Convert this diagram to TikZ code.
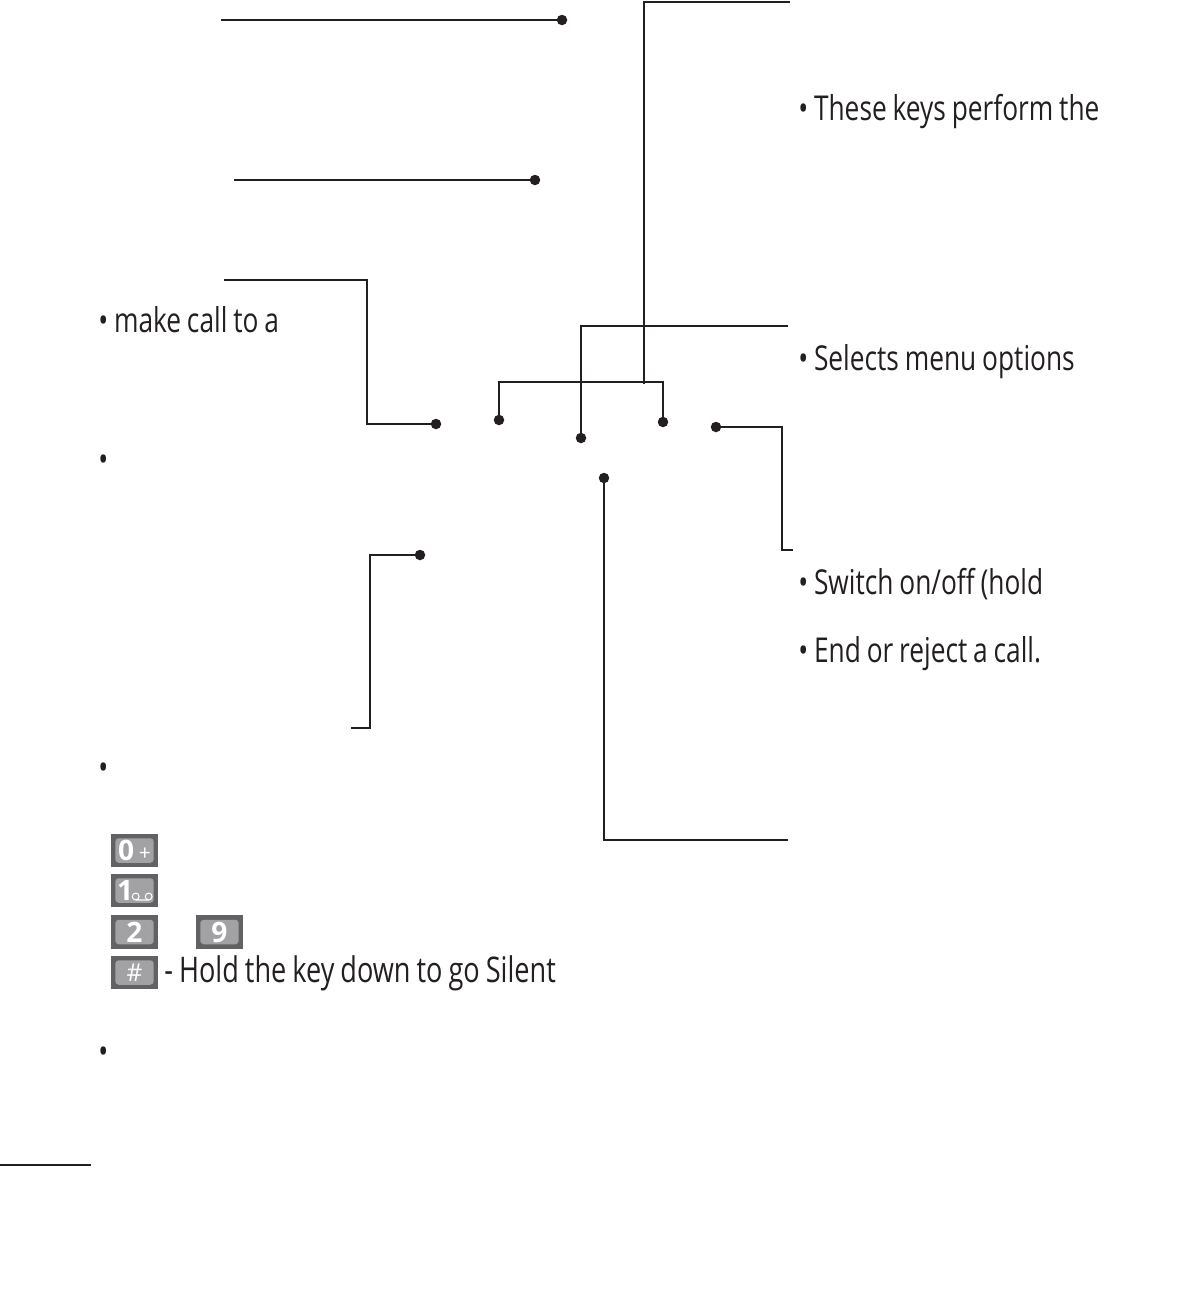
\documentclass[tikz,border=0pt]{standalone}
\usepackage{fontspec}
\setmainfont[FakeStretch=0.768,WordSpace=0.85]{Open Sans}
\newfontfamily\keyfont{Open Sans}
\usetikzlibrary{positioning}
\definecolor{inkblack}{HTML}{231F20}
\definecolor{keydark}{HTML}{626264}
\definecolor{keylight}{HTML}{A2A2A4}

\begin{document}
\begin{tikzpicture}[
  x=0.02cm, y=-0.02cm,
  lead/.style={draw=inkblack, line width=1.45pt},
  toprule/.style={draw=inkblack, line width=1.65pt},
  pindot/.style={circle, fill=inkblack, inner sep=0pt, outer sep=0pt, minimum size=0.21cm},
  captxt/.style={anchor=base west, inner sep=0pt, text=inkblack, font=\fontsize{19.5}{22}\selectfont},
  keyback/.style={fill=keydark, inner sep=0pt, minimum width=0.94cm, minimum height=0.67cm},
  keycap/.style={fill=keylight, rounded corners=2pt, inner sep=0pt, minimum width=0.77cm, minimum height=0.49cm,
    text=white, font=\keyfont\fontsize{16}{16}\bfseries\selectfont}
]
  \useasboundingbox (0,0) rectangle (1180,1306);

  % callouts on the left
  \coordinate (topfree) at (221,20);
  \node[pindot] (toppin) at (562,20) {};
  \draw[toprule] (topfree) -- (toppin);

  \coordinate (midfree) at (234,180);
  \node[pindot] (midpin) at (535,180) {};
  \draw[toprule] (midfree) -- (midpin);

  \coordinate (callfree) at (224,280);
  \node[pindot] (callpin) at (436,424) {};
  \draw[lead] (callfree) -- (367,280) |- (callpin);

  \coordinate (lowfree) at (351,728);
  \node[pindot] (lowpin) at (420,555) {};
  \draw[lead] (lowfree) -- (370,728) |- (lowpin);

  % soft keys and centre key
  \node[pindot] (softl) at (499,420) {};
  \node[pindot] (softr) at (663,422) {};
  \node[pindot] (centre) at (581,438) {};
  \coordinate (softfree) at (790,2);
  \coordinate (softjoin) at (644,384);
  \draw[lead] (softl) |- (663,382) -- (softr);
  \draw[lead] (softfree) -| (softjoin);
  \coordinate (centrefree) at (788,326);
  \draw[lead] (centrefree) -| (centre);

  % callouts on the right
  \node[pindot] (endpin) at (716,427) {};
  \coordinate (endfree) at (793,550);
  \draw[lead] (endpin) -| (782,550) -- (endfree);

  \node[pindot] (keypin) at (604,478) {};
  \coordinate (keyfree) at (788,840);
  \draw[lead] (keypin) |- (keyfree);

  \coordinate (rulea) at (0,1165);
  \coordinate (ruleb) at (91,1165);
  \draw[toprule] (rulea) -- (ruleb);

  % texts
  \node[captxt] (calltxt) at (98,332) {• make call to a};
  \node[captxt] (softtxt) at (798,120) {• These keys perform the};
  \node[captxt] (menutxt) at (798,370) {• Selects menu options};
  \node[captxt] (powertxt) at (798,594) {• Switch on/off (hold};
  \node[captxt] (rejecttxt) at (798,662) {• End or reject a call.};
  \node[captxt] (bulleta) at (98,471) {•};
  \node[captxt] (bulletb) at (98,779) {•};
  \node[captxt] (bulletc) at (98,1063) {•};

  % keypad icons
  \node[keyback] (zeroback) at (134.5,850.5) {};
  \node[keycap] (zerocap) at (zeroback) {0\,{\mdseries\fontsize{12}{12}\selectfont +}};
  \node[keyback] (oneback) at (134.5,890.5) {};
  \node[keycap, text width=0.7cm, align=left] (onecap) at (oneback) {1};
  \draw[white, line width=0.6pt] (135.7,896.5) circle (3.4) (148.7,896.5) circle (3.4) (135.7,900) -- (148.7,900);
  \node[keyback] (twoback) at (134.5,932) {};
  \node[keycap] (twocap) at (twoback) {2};
  \node[keyback] (nineback) at (219.5,932) {};
  \node[keycap] (ninecap) at (nineback) {9};
  \node[keyback] (hashback) at (134.5,972.5) {};
  \node[keycap, font=\keyfont\fontsize{14}{14}\selectfont] (hashcap) at (hashback) {\#};
  \node[captxt, font=\fontsize{20.1}{22}\selectfont] (silenttxt) at (164,982) {- Hold the key down to go Silent};
\end{tikzpicture}
\end{document}
